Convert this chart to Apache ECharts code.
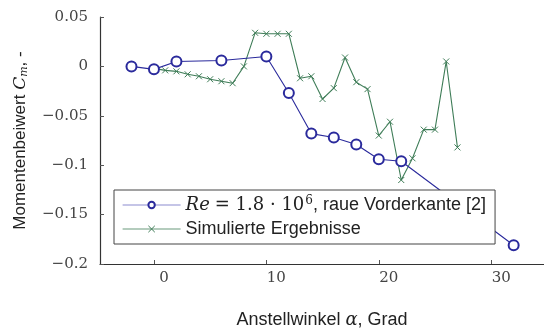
<!DOCTYPE html>
<html><head><meta charset="utf-8">
<script src="https://cdn.jsdelivr.net/npm/echarts@6/dist/echarts.min.js"></script>
<style>html,body{margin:0;padding:0;background:#fff}#c{width:544px;height:334px}</style>
</head><body><div id="c"></div>
<script>
const xTicks = [0, 10, 20, 30];
const yTicks = [-0.2, -0.15, -0.1, -0.05, 0, 0.05];
const expName = 'Re = 1.8 · 10^6, raue Vorderkante [2]';
const simName = 'Simulierte Ergebnisse';
const expAlpha = [-2, 0, 2, 6, 10, 12, 14, 16, 18, 20, 22, 32];
const expCm = [0, -0.003, 0.005, 0.006, 0.010, -0.027, -0.068, -0.072, -0.079, -0.094, -0.096, -0.181];
const simAlpha = [0,1,2,3,4,5,6,7,8,9,10,11,12,13,14,15,16,17,18,19,20,21,22,23,24,25,26,27];
const simCm = [-0.002, -0.004, -0.005, -0.008, -0.010, -0.013, -0.015, -0.017, 0.000, 0.034, 0.033, 0.033, 0.033, -0.012, -0.010, -0.033, -0.022, 0.009, -0.016, -0.023, -0.070, -0.056, -0.115, -0.093, -0.064, -0.064, 0.005, -0.082];

const BLUE = '#2a2a9c', GREEN = '#3f7d58';
const serif = 'DejaVu Serif';
const sans = 'Liberation Sans';
const CROSS = 'path://M0,0L10,10M10,0L0,10';
const zip = (a, b) => a.map((v, i) => [v, b[i]]);
const fmtNum = v => {
  if (Math.abs(v) < 1e-9) return '0';
  let s = String(+v.toFixed(3));
  return s.replace('-', '\u2212');
};

const chart = echarts.init(document.getElementById('c'), null, {renderer: 'canvas'});
chart.setOption({
  animation: false,
  backgroundColor: '#fff',
  grid: {left: 100, top: 17, right: 0, bottom: 67, containLabel: false},
  xAxis: {
    type: 'value', min: -4.8, max: 34.7,
    axisLine: {onZero: false, lineStyle: {color: '#333', width: 1.2}},
    axisTick: {inside: true, length: 4, customValues: xTicks, lineStyle: {color: '#555'}},
    axisLabel: {customValues: xTicks, fontFamily: serif, fontSize: 15, color: '#444', margin: 7,
      padding: [0, 0, 0, 20], formatter: fmtNum},
    splitLine: {show: false},
    name: 'Anstellwinkel {g|α}, Grad', nameLocation: 'middle', nameGap: 47,
    nameTextStyle: {fontFamily: sans, fontSize: 18, color: '#222',
      rich: {g: {fontFamily: serif, fontStyle: 'italic', fontSize: 18, color: '#222'}}}
  },
  yAxis: {
    type: 'value', min: -0.2, max: 0.05,
    axisLine: {onZero: false, lineStyle: {color: '#333', width: 1.2}},
    axisTick: {inside: true, length: 4, customValues: yTicks, lineStyle: {color: '#555'}},
    axisLabel: {customValues: yTicks, fontFamily: serif, fontSize: 15, color: '#444', margin: 12, formatter: fmtNum},
    splitLine: {show: false},
    name: 'Momentenbeiwert {i|C}{s|m}, -', nameLocation: 'middle', nameGap: 70, nameRotate: 90,
    nameTextStyle: {fontFamily: sans, fontSize: 17, color: '#222',
      rich: {i: {fontFamily: serif, fontStyle: 'italic', fontSize: 17, color: '#222'},
             s: {fontFamily: serif, fontStyle: 'italic', fontSize: 11, color: '#222', verticalAlign: 'bottom', padding: [8, 0, 0, 0]}}}
  },
  legend: {
    orient: 'vertical', left: 114, top: 190,
    padding: [5, 9, 5, 8], itemGap: 4, itemWidth: 58, itemHeight: 8,
    backgroundColor: '#fff', borderColor: '#444', borderWidth: 1, borderRadius: 0,
    data: [
      {name: expName, itemStyle: {color: BLUE, borderColor: BLUE, borderWidth: 1.2}, lineStyle: {color: '#8c8cd0', width: 1.2}},
      {name: simName, itemStyle: {color: 'none', borderColor: GREEN, borderWidth: 1}, lineStyle: {color: '#6a9a7c', width: 1.2}}
    ],
    formatter: n => n === expName ? '{i|Re} {m|= 1.8 · 10}{p|6}{t|, raue Vorderkante [2]}' : '{t|' + n + '}',
    textStyle: {fontFamily: sans, fontSize: 18, color: '#222', lineHeight: 20,
      rich: {
        i: {fontFamily: serif, fontStyle: 'italic', fontSize: 18, color: '#222', lineHeight: 20},
        m: {fontFamily: serif, fontSize: 18, color: '#222', lineHeight: 20},
        p: {fontFamily: serif, fontSize: 12, color: '#222', verticalAlign: 'top', lineHeight: 12, padding: [0, 0, 0, 1]},
        t: {fontFamily: sans, fontSize: 18, color: '#222', lineHeight: 20}
      }}
  },
  series: [
    {name: simName, type: 'line', data: zip(simAlpha, simCm), z: 2,
     symbol: CROSS, symbolSize: 6,
     itemStyle: {color: 'none', borderColor: GREEN, borderWidth: 1},
     lineStyle: {color: GREEN, width: 1.1}},
    {name: expName, type: 'line', data: zip(expAlpha, expCm), z: 3,
     symbol: 'emptyCircle', symbolSize: 10,
     itemStyle: {color: BLUE, borderColor: BLUE, borderWidth: 1},
     lineStyle: {color: BLUE, width: 1.1}}
  ]
});
</script></body></html>
